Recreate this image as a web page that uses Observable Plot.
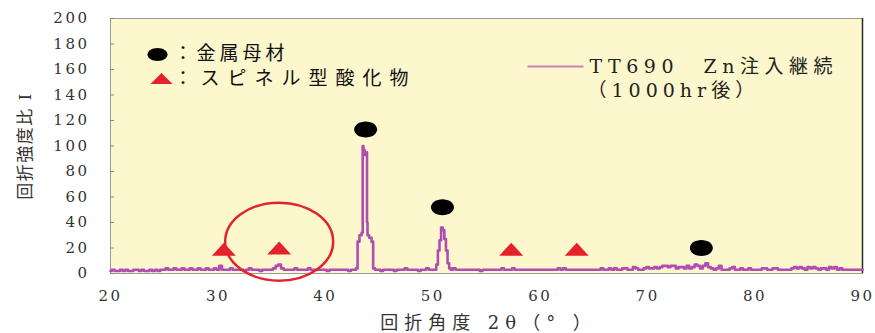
<!DOCTYPE html>
<html>
<head>
<meta charset="utf-8">
<script src="https://cdn.jsdelivr.net/npm/d3@7"></script>
<script src="https://cdn.jsdelivr.net/npm/@observablehq/plot@0.6"></script>
<style>
  html, body { margin: 0; padding: 0; background: #ffffff; }
  #chart svg { display: block; }
  g[aria-label="y-axis tick label"] text, g[aria-label="x-axis tick label"] text {
    letter-spacing: 2.5px; font-family: 'DejaVu Serif', serif; font-size: 15px;
  }
</style>
</head>
<body>
<div id="chart"></div>
<script>
// ---- data ----
const xTicks = [20, 30, 40, 50, 60, 70, 80, 90];
const yTicks = [0, 20, 40, 60, 80, 100, 120, 140, 160, 180, 200];

// baseline noise, one row per degree starting at 20°, samples at +0, +0.25, +0.5, +0.75
const baselineRows = [
  [2,3,2,2],[3,2,3,2],[2,3,3,2],[3,2,2,3],[2,3,2,3],
  [3,4,3,3],[4,3,3,4],[3,3,4,3],[3,4,3,3],[4,3,3,4],
  [3,6,3,3],[3,4,3,3],[3,3,2,3],[4,3,3,3],[2,3,3,3],
  [3,4,6,7],[4,3,3,3],[3,4,3,3],[3,3,4,3],[3,3,3,3],
  [3,2,3,3],[3,3,3,3],[3,2,3,3],[3,3,3,3],[3,3,3,3],
  [3,2,3,3],[3,3,2,3],[3,3,4,3],[3,3,3,2],[3,3,4,3],
  [3,3,3,3],[3,3,3,3],[4,3,3,3],[3,3,3,3],[3,3,2,3],
  [3,3,3,3],[3,3,4,3],[3,3,4,3],[3,3,3,3],[3,3,3,3],
  [3,3,3,3],[3,3,3,4],[3,4,3,3],[3,3,3,3],[3,3,3,3],
  [3,3,3,4],[3,3,4,3],[4,3,3,4],[4,3,3,5],[4,3,3,4],
  [5,4,4,5],[4,5,6,6],[5,6,6,4],[5,5,4,6],[4,5,7,6],
  [4,6,8,5],[4,3,4,6],[3,3,3,4],[5,3,3,4],[3,3,4,3],
  [3,3,3,4],[4,3,3,4],[4,3,3,3],[3,3,4,5],[4,5,4,3],
  [5,4,5,4],[3,4,4,3],[5,4,5,3],[4,3,3,3],[3,3,3,3],
  [3]
];

// main metal peak near 43.6°
const peak1Angle = [42.75, 42.95, 43.05, 43.3, 43.45, 43.5, 43.6, 43.7, 43.85, 43.9, 43.95, 44.2, 44.4, 44.5, 44.75];
const peak1Value = [3, 4, 25, 30, 32, 100, 97, 93, 95, 40, 30, 28, 25, 4, 3];

// second metal peak near 50.9°
const peak2Angle = [50.25, 50.4, 50.55, 50.7, 50.85, 51.0, 51.15, 51.3, 51.45, 51.6, 51.75];
const peak2Value = [3, 7, 18, 26, 36, 34, 27, 18, 8, 4, 3];

// marker annotations
const metalAngle = [43.75, 50.9, 75.0];
const metalLevel = [113, 52, 20];
const spinelAngle = [30.55, 35.7, 57.3, 63.4];
const spinelLevel = [19, 20, 19, 19];
const highlightAngle = [35.7];
const highlightLevel = [25];

const legendMetal = "：金属母材";
const legendSpinel = "：スピネル型酸化物";
const seriesLine1 = "TT690　Zn注入継続";
const seriesLine2 = "（1000hr後）";
const xTitle = "回折角度 2θ（° ）";
const yTitle = "回折強度比 I";

// ---- build tables ----
const inPeak = a => (a >= 42.75 && a <= 44.75) || (a >= 50.25 && a <= 51.75);
const spectrum = [];
baselineRows.forEach((row, i) => row.forEach((v, j) => {
  const a = 20 + i + j * 0.25;
  if (!inPeak(a)) spectrum.push({angle: a, value: v});
}));
peak1Angle.forEach((a, i) => spectrum.push({angle: a, value: peak1Value[i]}));
peak2Angle.forEach((a, i) => spectrum.push({angle: a, value: peak2Value[i]}));
spectrum.sort((p, q) => p.angle - q.angle);

const metal = metalAngle.map((a, i) => ({angle: a, level: metalLevel[i]}));
const spinel = spinelAngle.map((a, i) => ({angle: a, level: spinelLevel[i]}));
const highlight = highlightAngle.map((a, i) => ({angle: a, level: highlightLevel[i]}));

// ---- custom symbols ----
function ellipseSymbol(rx, ry) {
  const k = 0.5523;
  return {draw(ctx) {
    ctx.moveTo(rx, 0);
    ctx.bezierCurveTo(rx, ry * k, rx * k, ry, 0, ry);
    ctx.bezierCurveTo(-rx * k, ry, -rx, ry * k, -rx, 0);
    ctx.bezierCurveTo(-rx, -ry * k, -rx * k, -ry, 0, -ry);
    ctx.bezierCurveTo(rx * k, -ry, rx, -ry * k, rx, 0);
    ctx.closePath();
  }};
}
function flatTriangle(w, h) {
  return {draw(ctx) {
    ctx.moveTo(0, -h / 2);
    ctx.lineTo(w / 2, h / 2);
    ctx.lineTo(-w / 2, h / 2);
    ctx.closePath();
  }};
}
function hLine(w) {
  return {draw(ctx) {
    ctx.moveTo(-w / 2, 0);
    ctx.lineTo(w / 2, 0);
  }};
}

const serif = "'DejaVu Serif', 'Noto Sans CJK JP', serif";
const sans = "'Noto Sans CJK JP', 'Noto Sans', sans-serif";
const lineColor = "#b14cb2";
const red = "#e4222b";

const chart = Plot.plot({
  width: 875,
  height: 333,
  marginLeft: 110,
  marginRight: 13,
  marginTop: 18,
  marginBottom: 60,
  style: {fontFamily: serif, fontSize: "15px", color: "#333", background: "#ffffff"},
  x: {domain: [20, 90]},
  y: {domain: [0, 200]},
  marks: [
    Plot.frame({fill: "#fcf7cc", stroke: "#9a9a9a"}),
    Plot.ruleX([90], {stroke: "#2a2a2a", strokeWidth: 1.5}),
    Plot.axisY({ticks: yTicks, tickSize: -4, tickPadding: 25, stroke: "#888", fill: "#333", label: null}),
    Plot.axisX({ticks: xTicks, tickSize: 0, tickPadding: 17, fill: "#333", label: null}),
    Plot.line(spectrum, {x: "angle", y: "value", stroke: lineColor, strokeWidth: 2.6, curve: "step"}),
    Plot.dot(highlight, {x: "angle", y: "level", symbol: ellipseSymbol(54, 39), fill: "none", stroke: red, strokeWidth: 2.5, r: 5}),
    Plot.dot(metal, {x: "angle", y: "level", symbol: ellipseSymbol(11.5, 8), fill: "#000", stroke: "none", r: 5}),
    Plot.dot(spinel, {x: "angle", y: "level", symbol: flatTriangle(24, 13), fill: red, stroke: "none", r: 5}),
    // legend (inside the plot area)
    Plot.dot([0], {frameAnchor: "top-left", dx: 47, dy: 36, symbol: ellipseSymbol(10, 6.5), fill: "#000", stroke: "none", r: 5}),
    Plot.dot([0], {frameAnchor: "top-left", dx: 51, dy: 60, symbol: flatTriangle(22, 11), fill: red, stroke: "none", r: 5}),
    Plot.text([legendMetal], {text: d => d, frameAnchor: "top-left", dx: 63, dy: 35, textAnchor: "start", lineAnchor: "middle", fontFamily: sans, fontSize: 19, fill: "#111"}),
    Plot.text([legendSpinel], {text: d => d, frameAnchor: "top-left", dx: 63, dy: 60, textAnchor: "start", lineAnchor: "middle", fontFamily: sans, fontSize: 19, fill: "#111"}),
    Plot.dot([0], {frameAnchor: "top-left", dx: 445, dy: 48, symbol: hLine(56), fill: "none", stroke: "#d27fb6", strokeWidth: 2.2, r: 5}),
    Plot.text([seriesLine1], {text: d => d, frameAnchor: "top-left", dx: 479, dy: 48, textAnchor: "start", lineAnchor: "middle", fontFamily: serif, fontSize: 19, fill: "#222"}),
    Plot.text([seriesLine2], {text: d => d, frameAnchor: "top-left", dx: 477, dy: 72, textAnchor: "start", lineAnchor: "middle", fontFamily: serif, fontSize: 19, fill: "#222"}),
    // axis titles
    Plot.text([xTitle], {text: d => d, frameAnchor: "bottom", dx: 2, dy: 50, textAnchor: "middle", lineAnchor: "middle", fontFamily: serif, fontSize: 18, fill: "#333"}),
    Plot.text([yTitle], {text: d => d, frameAnchor: "left", dx: -85, rotate: -90, textAnchor: "middle", lineAnchor: "middle", fontFamily: serif, fontSize: 17, fill: "#333"})
  ]
});

// letter spacing of the wide, spaced-out original lettering
const spacing = new Map([
  [legendMetal, "4px"],
  [legendSpinel, "8px"],
  [seriesLine1, "5.5px"],
  [seriesLine2, "5px"],
  [xTitle, "6px"],
  [yTitle, "1.5px"]
]);
d3.select(chart).selectAll("text").each(function () {
  const s = spacing.get(this.textContent);
  if (s) this.style.letterSpacing = s;
});
document.getElementById("chart").appendChild(chart);
</script>
</body>
</html>
